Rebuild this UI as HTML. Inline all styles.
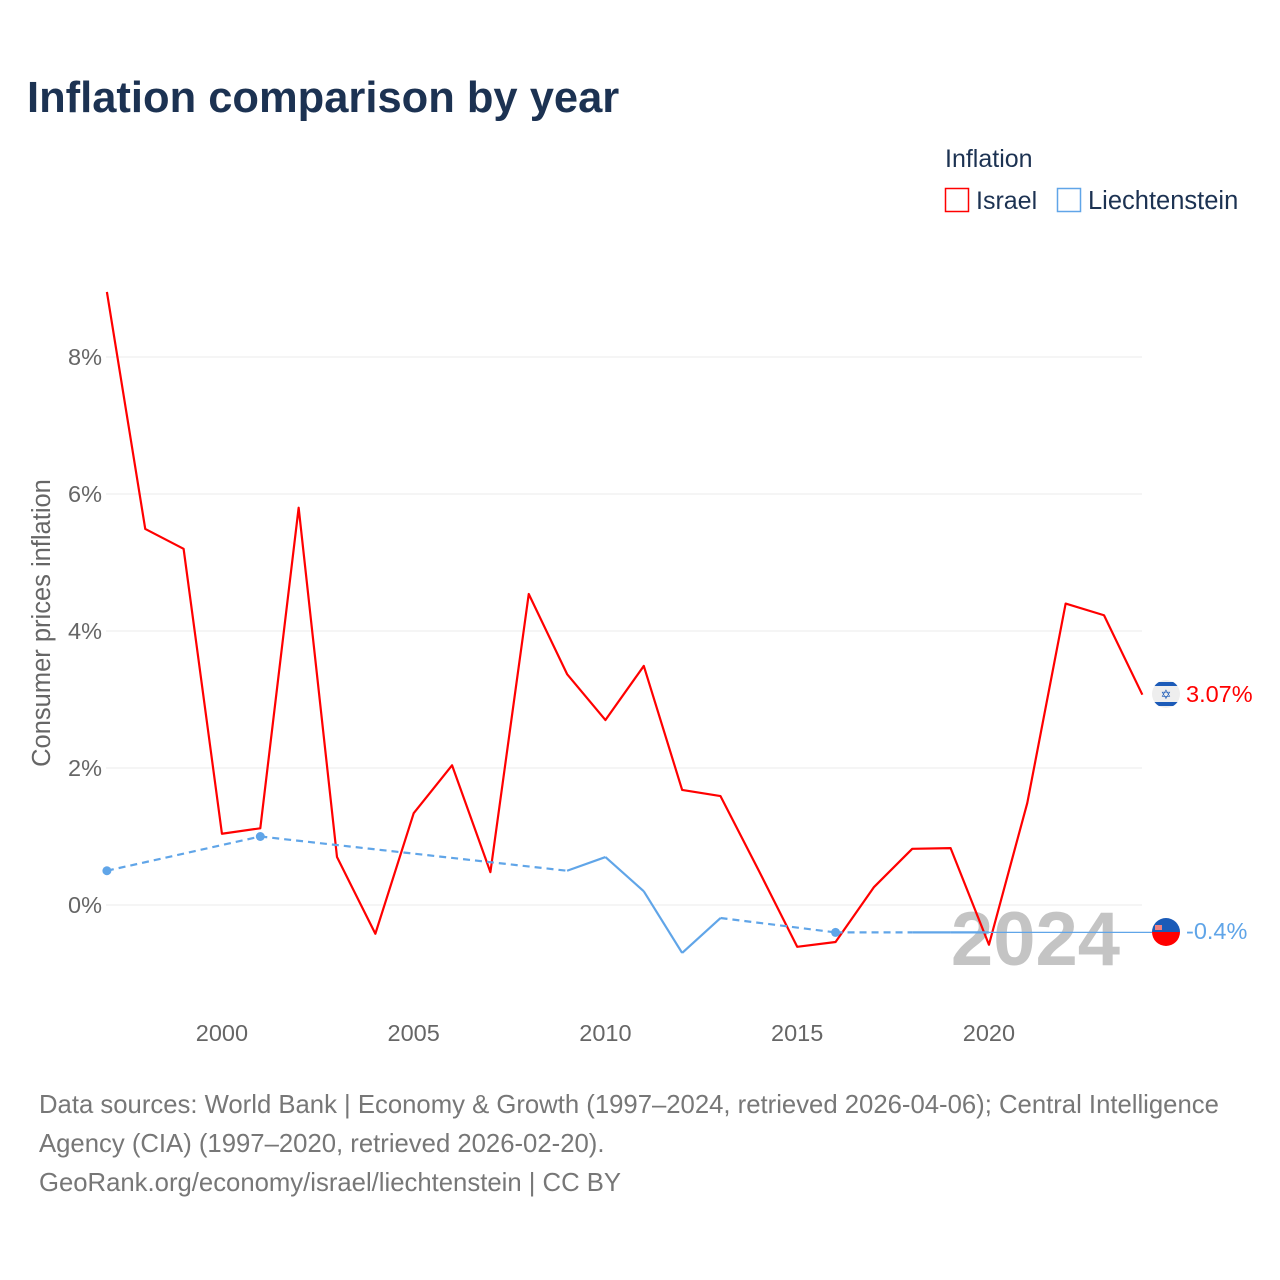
<!DOCTYPE html>
<html><head><meta charset="utf-8"><style>
body{margin:0;background:#fff;font-family:"Liberation Sans",sans-serif}
#root{position:relative;width:1280px;height:1280px;overflow:hidden}
</style></head><body>
<div id="root">
<svg id="svg" width="1280" height="1280">
<text x="27" y="112" font-size="43.5" font-weight="bold" fill="#1c3252">Inflation comparison by year</text>
<text x="945" y="167" font-size="25" fill="#1c3252">Inflation</text>
<g><rect x="945.5" y="188.5" width="23" height="23" fill="none" stroke="#ff0000" stroke-width="1.5"/><text x="976" y="209" font-size="25" fill="#1c3252">Israel</text></g>
<g><rect x="1057.5" y="188.5" width="23" height="23" fill="none" stroke="#60a5e8" stroke-width="1.5"/><text x="1088" y="209" font-size="25.5" fill="#1c3252">Liechtenstein</text></g>
<text transform="translate(50,623) rotate(-90)" text-anchor="middle" font-size="25.5" fill="#666">Consumer prices inflation</text>
<g id="grid"></g><g id="yt"></g><g id="xt"></g>
<text x="1120" y="965" text-anchor="end" font-size="76" font-weight="bold" fill="#c4c4c4">2024</text>
<g id="series"></g>
<g><clipPath id="c1"><circle cx="1166" cy="694" r="14"/></clipPath><g clip-path="url(#c1)"><rect x="1150" y="678" width="32" height="32" fill="#eee"/><rect x="1150" y="682" width="32" height="4" fill="#1c5bb8"/><rect x="1150" y="702" width="32" height="4" fill="#1c5bb8"/><text x="1166" y="699" text-anchor="middle" font-size="13" fill="#1c5bb8" font-family="DejaVu Sans">✡</text></g></g>
<g><clipPath id="c2"><circle cx="1166" cy="932" r="14"/></clipPath><g clip-path="url(#c2)"><rect x="1150" y="916" width="32" height="16" fill="#1a5bb8"/><rect x="1150" y="932" width="32" height="16" fill="#ff0000"/><rect x="1155" y="925" width="7" height="5" fill="#f08080"/></g></g>
<text x="1186" y="702" font-size="23.5" fill="#ff0000">3.07%</text>
<text x="1186" y="939" font-size="23.5" fill="#60a5e8">-0.4%</text>
<text font-size="25.7" fill="#777"><tspan x="39" y="1113">Data sources: World Bank | Economy &amp; Growth (1997–2024, retrieved 2026-04-06); Central Intelligence</tspan><tspan x="39" y="1152">Agency (CIA) (1997–2020, retrieved 2026-02-20).</tspan><tspan x="39" y="1191">GeoRank.org/economy/israel/liechtenstein | CC BY</tspan></text>
</svg></div>
<script>
const years=[1997,1998,1999,2000,2001,2002,2003,2004,2005,2006,2007,2008,2009,2010,2011,2012,2013,2014,2015,2016,2017,2018,2019,2020,2021,2022,2023,2024];
const israel=[8.95,5.49,5.2,1.04,1.12,5.8,0.7,-0.42,1.34,2.04,0.48,4.54,3.37,2.7,3.49,1.68,1.59,0.5,-0.61,-0.54,0.26,0.82,0.83,-0.58,1.49,4.4,4.23,3.07];
const liech=[0.5,null,null,null,1.0,null,null,null,null,null,null,null,0.5,0.7,0.2,-0.7,-0.19,null,null,-0.4,null,-0.4,-0.4,-0.4,null,null,null,null];
const yTicks=[0,2,4,6,8];
const xTicks=[2000,2005,2010,2015,2020];
const X=y=>106.9+(y-1997)*38.35, Y=v=>905-v*68.5;
const NS="http://www.w3.org/2000/svg";
function mk(t,a,p){const e=document.createElementNS(NS,t);for(const k in a)e.setAttribute(k,a[k]);p.appendChild(e);return e;}
const grid=document.getElementById('grid'),yt=document.getElementById('yt'),xt=document.getElementById('xt'),s=document.getElementById('series');
yTicks.forEach(v=>{const l=mk('line',{x1:106,x2:1142,y1:Y(v),y2:Y(v),stroke:'#ebebeb','stroke-width':1},grid);


const t=mk('text',{x:102,y:Y(v)+8,'text-anchor':'end','font-size':23.5,fill:'#666'},yt);t.textContent=v+'%';

});
xTicks.forEach(v=>{const t=mk('text',{x:X(v),y:1041,'text-anchor':'middle','font-size':23.5,fill:'#666'},xt);t.textContent=v;

});
const ip=mk('polyline',{points:years.map((y,i)=>X(y)+','+Y(israel[i])).join(' '),fill:'none',stroke:'#ff0000','stroke-width':2.2,'stroke-linejoin':'round'},s);


const idx=liech.map((v,i)=>v===null?-1:i).filter(i=>i>=0);
const last=idx[idx.length-1];
const ext=mk('line',{x1:X(years[last]),y1:Y(liech[last]),x2:1152,y2:Y(liech[last]),stroke:'#60a5e8','stroke-width':1.2},s);


for(let k=0;k<idx.length-1;k++){const a=idx[k],b=idx[k+1];
const l=mk('line',{x1:X(years[a]),y1:Y(liech[a]),x2:X(years[b]),y2:Y(liech[b]),stroke:'#60a5e8','stroke-width':2.2,'stroke-dasharray':b-a>1?'7,5':'none'},s);

}
idx.forEach(i=>{const iso=(i===0||liech[i-1]===null)&&(i===liech.length-1||liech[i+1]===null);
if(iso){const c=mk('circle',{cx:X(years[i]),cy:Y(liech[i]),r:4.5,fill:'#60a5e8'},s);

}});
</script>
</body></html>
